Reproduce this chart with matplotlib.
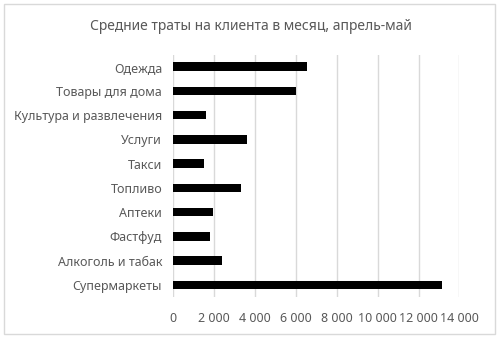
import matplotlib.pyplot as plt
from matplotlib.patches import Rectangle
from matplotlib.ticker import FuncFormatter

plt.rcParams['font.family'] = ['Noto Sans', 'DejaVu Sans']

categories = ['Одежда', 'Товары для дома', 'Культура и развлечения', 'Услуги',
              'Такси', 'Топливо', 'Аптеки', 'Фастфуд', 'Алкоголь и табак',
              'Супермаркеты']
spend = [6550, 6020, 1580, 3600, 1480, 3300, 1940, 1790, 2380, 13140]
xticks = list(range(0, 14001, 2000))

grey = '#595959'

fig = plt.figure(figsize=(5.01, 3.39), dpi=100)
fig.patches.append(Rectangle((3.5 / 501, 1 - 333.5 / 339), 491 / 501, 330 / 339,
                             transform=fig.transFigure, fill=False,
                             edgecolor='#d9d9d9', linewidth=1))

ax = fig.add_axes([0.346, 0.124, 0.571, 0.715])
ypos = range(len(categories))
ax.barh(ypos, spend, height=0.35, color='black', zorder=3)
ax.set_ylim(len(categories) - 0.5, -0.5)
ax.set_xlim(0, 14000)
ax.set_yticks(list(ypos))
ax.set_yticklabels(categories)
ax.set_xticks(xticks)
ax.xaxis.set_major_formatter(FuncFormatter(lambda v, p: f'{int(v):,}'.replace(',', ' ')))
ax.grid(axis='x', color='#d9d9d9', linewidth=1, zorder=0)
for s in ax.spines.values():
    s.set_visible(False)
ax.tick_params(length=0, colors=grey, labelsize=9)
ax.tick_params(axis='x', pad=11)
ax.tick_params(axis='y', pad=8)

fig.text(0.5, 1 - 26 / 339, 'Средние траты на клиента в месяц, апрель-май',
         ha='center', va='center', fontsize=10, color=grey)

fig.savefig('out.png', dpi=100)
